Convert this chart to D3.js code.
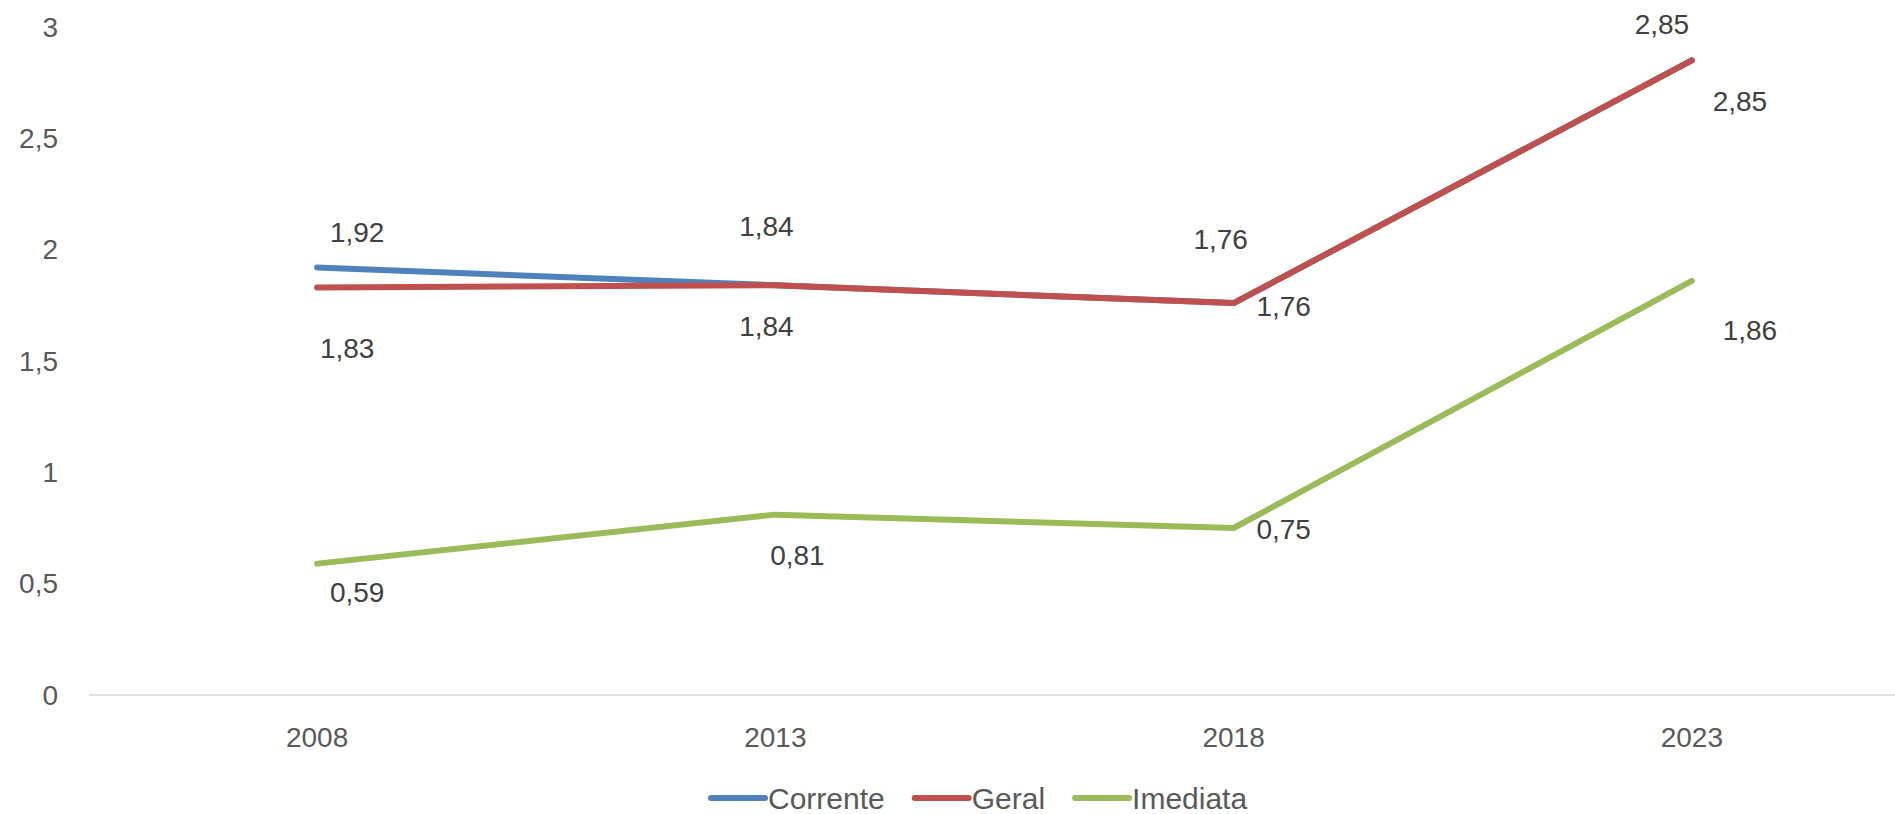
<!DOCTYPE html>
<html>
<head>
<meta charset="utf-8">
<script src="https://cdn.jsdelivr.net/npm/d3@7"></script>
<style>
  body { margin: 0; background: #fff; }
  text { font-family: "Liberation Sans", Arial, sans-serif; }
</style>
</head>
<body>
<div id="chart"></div>
<script>
// chart data
var years = ["2008", "2013", "2018", "2023"];
var corrente = [1.92, 1.84, 1.76, 2.85];
var geral = [1.83, 1.84, 1.76, 2.85];
var imediata = [0.59, 0.81, 0.75, 1.86];
var seriesNames = ["Corrente", "Geral", "Imediata"];
var yTicks = [0, 0.5, 1, 1.5, 2, 2.5, 3];

var width = 1895, height = 814;
var colors = ["#4f81bd", "#c0504d", "#9bbb59"];

// label offsets (dx, dy) from each point, like excel placed them
var labelOffsets = [
  [[40, -35], [-9, -59], [-13, -64], [-30, -36]],
  [[30, 61], [-9, 41], [50, 3], [48, 41]],
  [[40, 29], [22, 41], [50, 1], [58, 49]]
];

var svg = d3.select("#chart").append("svg")
    .attr("width", width)
    .attr("height", height);

var x = d3.scaleBand()
    .domain(years)
    .range([88, 1921]);

var y = d3.scaleLinear()
    .domain([0, 3])
    .range([695, 27]);

// x axis line
svg.append("line")
    .attr("x1", 89).attr("x2", width)
    .attr("y1", y(0)).attr("y2", y(0))
    .style("stroke", "#d9d9d9")
    .style("stroke-width", 1.5);

// y tick labels
svg.selectAll(".ytick")
    .data(yTicks)
    .enter()
    .append("text")
    .attr("class", "ytick")
    .attr("x", 58)
    .attr("y", function(d) { return y(d); })
    .attr("dy", "0.35em")
    .attr("text-anchor", "end")
    .style("font-size", "28px")
    .style("fill", "#595959")
    .text(function(d) { return String(d).replace(".", ","); });

// x tick labels
svg.selectAll(".xtick")
    .data(years)
    .enter()
    .append("text")
    .attr("class", "xtick")
    .attr("x", function(d) { return x(d) + x.bandwidth() / 2; })
    .attr("y", 737)
    .attr("dy", "0.35em")
    .attr("text-anchor", "middle")
    .style("font-size", "28px")
    .style("fill", "#595959")
    .text(function(d) { return d; });

var allSeries = [corrente, geral, imediata];

var line = d3.line()
    .x(function(d, i) { return x(years[i]) + x.bandwidth() / 2; })
    .y(function(d) { return y(d); });

allSeries.forEach(function(values, s) {
  svg.append("path")
      .datum(values)
      .attr("d", line)
      .style("fill", "none")
      .style("stroke", colors[s])
      .style("stroke-width", 6)
      .style("stroke-linecap", "round")
      .style("stroke-linejoin", "round");
});

// data labels
allSeries.forEach(function(values, s) {
  svg.selectAll(".lbl" + s)
      .data(values)
      .enter()
      .append("text")
      .attr("class", "lbl" + s)
      .attr("x", function(d, i) { return x(years[i]) + x.bandwidth() / 2 + labelOffsets[s][i][0]; })
      .attr("y", function(d, i) { return y(d) + labelOffsets[s][i][1]; })
      .attr("dy", "0.35em")
      .attr("text-anchor", "middle")
      .style("font-size", "28px")
      .style("fill", "#404040")
      .text(function(d) { return d3.format(".2f")(d).replace(".", ","); });
});

// legend
var legend = svg.append("g").attr("transform", "translate(711,798)");
var legendX = 0;
seriesNames.forEach(function(name, s) {
  var g = legend.append("g").attr("transform", "translate(" + legendX + ",0)");
  g.append("line")
      .attr("x1", 0).attr("x2", 54)
      .attr("y1", 0).attr("y2", 0)
      .style("stroke", colors[s])
      .style("stroke-width", 6)
      .style("stroke-linecap", "round");
  var t = g.append("text")
      .attr("x", 57)
      .attr("dy", "0.35em")
      .style("font-size", "30px")
      .style("fill", "#595959")
      .text(name);
  legendX += 57 + t.node().getComputedTextLength() + 30;
});
</script>
</body>
</html>
